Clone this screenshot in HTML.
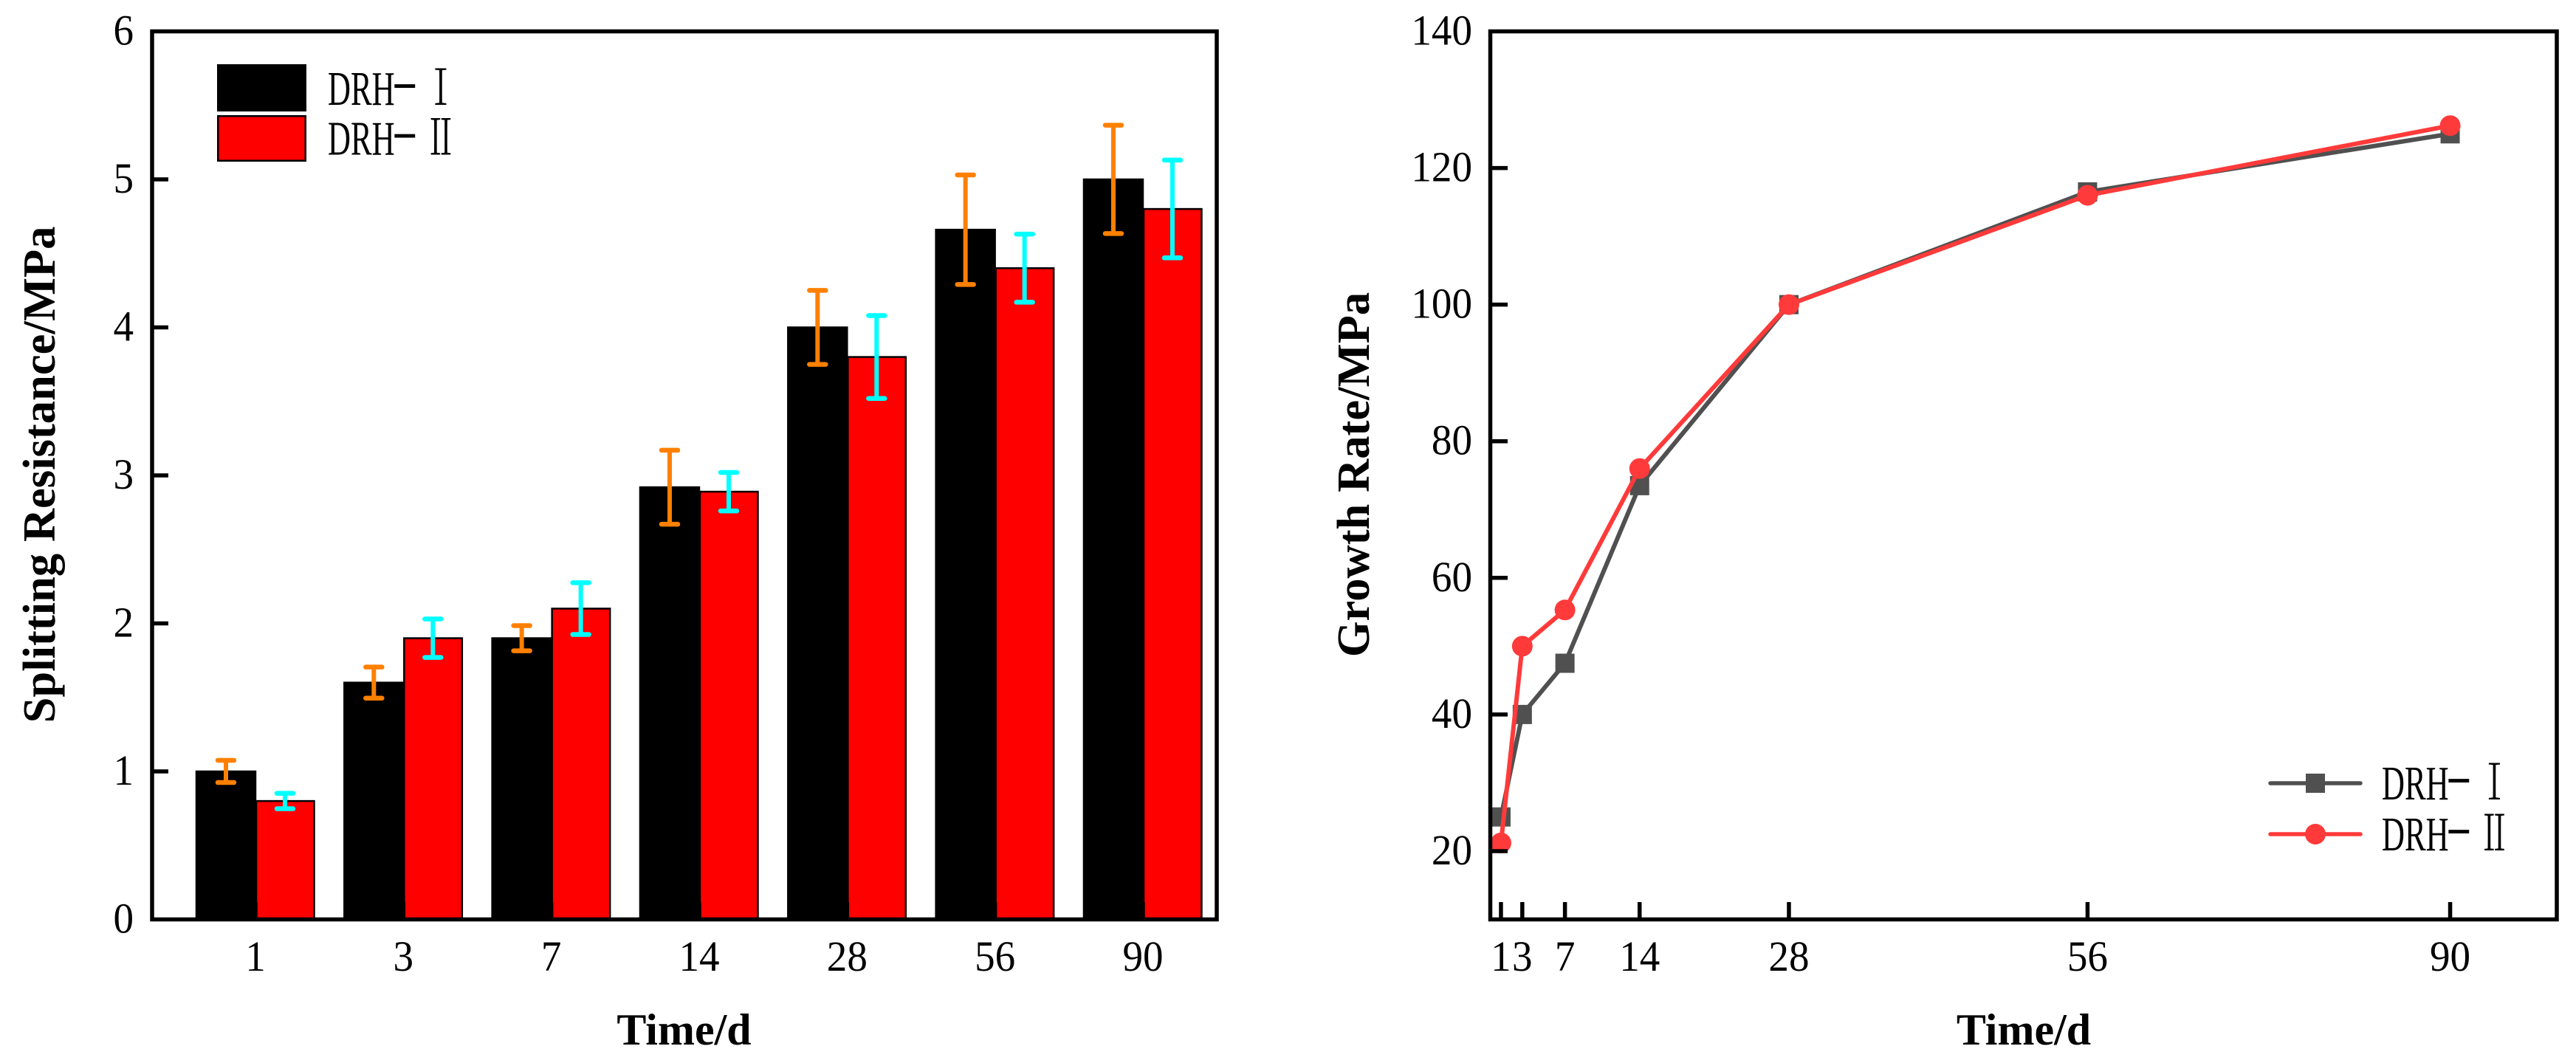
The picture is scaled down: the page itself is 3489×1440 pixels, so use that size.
<!DOCTYPE html>
<html>
<head>
<meta charset="utf-8">
<title>Splitting resistance and growth rate charts</title>
<style>
html,body{margin:0;padding:0;background:#fff;}
svg{display:block;}
text{font-family:"Liberation Serif","Noto Serif CJK SC",serif;fill:#000;}
</style>
</head>
<body>
<svg id="figure" xmlns="http://www.w3.org/2000/svg" width="3489" height="1440" viewBox="0 0 3489 1440">
<rect x="0" y="0" width="3489" height="1440" fill="#ffffff"/>
<g id="left-chart"></g>
<g id="right-chart"></g>
</svg>
<script>
// Left chart data
const barCategories = ["1", "3", "7", "14", "28", "56", "90"];
const barSeriesOne = [1, 1.6, 1.9, 2.92, 4, 4.66, 5];
const barSeriesTwo = [0.8, 1.9, 2.1, 2.89, 3.8, 4.4, 4.8];
const errorSeriesOne = [0.075, 0.105, 0.085, 0.25, 0.25, 0.37, 0.366];
const errorSeriesTwo = [0.052, 0.13, 0.175, 0.13, 0.28, 0.23, 0.33];
const barYTicks = [0, 1, 2, 3, 4, 5, 6];

// Right chart data
const lineDays = [1, 3, 7, 14, 28, 56, 90];
const lineSeriesOne = [25, 40, 47.5, 73.5, 100, 116.5, 125];
const lineSeriesTwo = [21.2, 50, 55.3, 76, 100, 116, 126.2];
const lineYTicks = [20, 40, 60, 80, 100, 120, 140];

const NS = "http://www.w3.org/2000/svg";
const leftG = document.getElementById("left-chart");
const rightG = document.getElementById("right-chart");

function mk(parent, tag, props, content) {
  const el = document.createElementNS(NS, tag);
  for (const k in props) el.setAttribute(k, props[k]);
  if (content !== undefined) el.textContent = content;
  parent.appendChild(el);
  return el;
}

// Axis functions
const barTop = 42.5, barBottom = 1245.5, barLeft = 206, barRight = 1648;
const barY = v => barBottom - (v / 6) * (barBottom - barTop);
const barX = i => 347 + i * 200.33;
const lineLeft = 2018.5, lineRight = 3463, lineTop = 42.5, lineBottom = 1245.5;
const lineX = d => lineLeft + (d / 100) * (lineRight - lineLeft);
const lineY = v => lineBottom - ((v - 10) / 130) * (lineBottom - lineTop);

const AXIS_W = 5.5;
const TICK_SIZE = 58;
const TICK_SQUEEZE = 0.95;

// Tick label with slightly condensed digits
function tickLabel(parent, x, y, anchor, str) {
  return mk(parent, "text", {transform: "translate(" + x + "," + y + ") scale(" + TICK_SQUEEZE + ",1)", "text-anchor": anchor, "font-size": TICK_SIZE}, str);
}

// ---------- Left chart: bars ----------
barCategories.forEach((cat, i) => {
  const c = barX(i);
  const b1 = mk(leftG, "rect", {x: c - 81, y: barY(barSeriesOne[i]), width: 80, height: barBottom - barY(barSeriesOne[i]), fill: "#000000", stroke: "#000000", "stroke-width": 2.5});
  
  
  const b2 = mk(leftG, "rect", {x: c, y: barY(barSeriesTwo[i]), width: 78.5, height: barBottom - barY(barSeriesTwo[i]), fill: "#ff0000", stroke: "#000000", "stroke-width": 2.5});
  
  
});

function drawError(cx, value, err, color, nameValue) {
  const g = mk(leftG, "g", {stroke: color, "stroke-linecap": "round", fill: "none"});
  
  
  const hi = barY(value + err), lo = barY(value - err);
  mk(g, "line", {x1: cx, x2: cx, y1: hi, y2: lo, "stroke-linecap": "butt", "stroke-width": 6});
  mk(g, "line", {x1: cx - 11, x2: cx + 11, y1: hi, y2: hi, "stroke-width": 6.5});
  mk(g, "line", {x1: cx - 11, x2: cx + 11, y1: lo, y2: lo, "stroke-width": 6.5});
}
barCategories.forEach((cat, i) => {
  const c = barX(i);
  drawError(c - 41, barSeriesOne[i], errorSeriesOne[i], "#ff8000", "error-bar-drh-1");
  drawError(c + 39, barSeriesTwo[i], errorSeriesTwo[i], "#00ffff", "error-bar-drh-2");
});

// Left chart frame and ticks
const leftFrame = mk(leftG, "rect", {x: barLeft, y: barTop, width: barRight - barLeft, height: barBottom - barTop, fill: "none", stroke: "#000", "stroke-width": AXIS_W});



barYTicks.forEach(v => {
  if (v > 0 && v < 6) {
    const t = mk(leftG, "line", {x1: barLeft, x2: barLeft + 22, y1: barY(v), y2: barY(v), stroke: "#000", "stroke-width": AXIS_W});
    
    
  }
  const l = tickLabel(leftG, 181, barY(v) + 18, "end", String(v));
  
  
});
barCategories.forEach((cat, i) => {
  const c = barX(i) - 1;
  const t = mk(leftG, "line", {x1: c, x2: c, y1: barBottom, y2: 1222, stroke: "#000", "stroke-width": AXIS_W});
  
  
  const l = tickLabel(leftG, c, 1315, "middle", cat);
  
  
});

const leftXTitle = mk(leftG, "text", {x: 926.5, y: 1415, "text-anchor": "middle", "font-size": 60, "font-weight": "bold"}, "Time/d");


const leftYTitle = mk(leftG, "text", {transform: "translate(74,643) rotate(-90)", "text-anchor": "middle", "font-size": 62.6, "font-weight": "bold"}, "Splitting Resistance/MPa");



// Legend text: condensed Latin, stretched hyphen, full-width roman numeral
function legendText(parent, x, baseline, numeral, numeralCenter) {
  const sx = 0.65;
  const t = mk(parent, "text", {transform: "translate(" + x + "," + baseline + ") scale(" + sx + ",1)", "font-size": 66});
  mk(t, "tspan", {x: 0}, "DRH");
  mk(t, "tspan", {x: 133, dy: -10, textLength: 55, lengthAdjust: "spacingAndGlyphs"}, "-");
  mk(t, "tspan", {x: (numeralCenter - x) / sx - 33, dy: 10, style: "font-family:'Noto Serif CJK SC','Liberation Serif',serif"}, numeral);
  return t;
}

// Left legend
const leftLegend = mk(leftG, "g", {});


const swatchOne = mk(leftLegend, "rect", {x: 295.25, y: 88.25, width: 118.5, height: 61.5, fill: "#000", stroke: "#000", "stroke-width": 2.5});


const swatchTwo = mk(leftLegend, "rect", {x: 295.25, y: 157.25, width: 118.5, height: 60.5, fill: "#ff0000", stroke: "#000", "stroke-width": 2.5});


const leftLabelOne = legendText(leftLegend, 444, 142, "Ⅰ", 597);


const leftLabelTwo = legendText(leftLegend, 444, 209.5, "Ⅱ", 597);



// ---------- Right chart: lines ----------
const GRAY = "#505050", RED = "#ff3a3a";
const polyOne = mk(rightG, "polyline", {points: lineDays.map((d, i) => lineX(d) + "," + lineY(lineSeriesOne[i])).join(" "), fill: "none", stroke: GRAY, "stroke-width": 6, "stroke-linejoin": "round"});


lineDays.forEach((d, i) => {
  const m = mk(rightG, "rect", {x: lineX(d) - 13, y: lineY(lineSeriesOne[i]) - 13, width: 26, height: 26, fill: GRAY});
  
  
});
const polyTwo = mk(rightG, "polyline", {points: lineDays.map((d, i) => lineX(d) + "," + lineY(lineSeriesTwo[i])).join(" "), fill: "none", stroke: RED, "stroke-width": 6, "stroke-linejoin": "round"});


lineDays.forEach((d, i) => {
  const m = mk(rightG, "circle", {cx: lineX(d), cy: lineY(lineSeriesTwo[i]), r: 14, fill: RED});
  
  
});

// Right chart frame and ticks
const rightFrame = mk(rightG, "rect", {x: lineLeft, y: lineTop, width: lineRight - lineLeft, height: lineBottom - lineTop, fill: "none", stroke: "#000", "stroke-width": AXIS_W});



lineYTicks.forEach(v => {
  if (v < 140) {
    const t = mk(rightG, "line", {x1: lineLeft, x2: lineLeft + 23.5, y1: lineY(v), y2: lineY(v), stroke: "#000", "stroke-width": AXIS_W});
    
    
  }
  const l = tickLabel(rightG, 1994, lineY(v) + 18, "end", String(v));
  
  
});
lineDays.forEach(d => {
  const t = mk(rightG, "line", {x1: lineX(d), x2: lineX(d), y1: lineBottom, y2: 1222, stroke: "#000", "stroke-width": AXIS_W});
  
  
  const l = tickLabel(rightG, lineX(d), 1315, "middle", String(d));
  
  
});

const rightXTitle = mk(rightG, "text", {x: 2741, y: 1415, "text-anchor": "middle", "font-size": 60, "font-weight": "bold"}, "Time/d");


const rightYTitle = mk(rightG, "text", {transform: "translate(1854,643) rotate(-90)", "text-anchor": "middle", "font-size": 62.6, "font-weight": "bold"}, "Growth Rate/MPa");



// Right legend
const rightLegend = mk(rightG, "g", {});


const keyLineOne = mk(rightLegend, "line", {x1: 3075, x2: 3197, y1: 1061, y2: 1061, stroke: GRAY, "stroke-width": 5.5, "stroke-linecap": "round"});


const keyMarkOne = mk(rightLegend, "rect", {x: 3123, y: 1048, width: 26, height: 26, fill: GRAY});


const keyLineTwo = mk(rightLegend, "line", {x1: 3075, x2: 3197, y1: 1130, y2: 1130, stroke: RED, "stroke-width": 5.5, "stroke-linecap": "round"});


const keyMarkTwo = mk(rightLegend, "circle", {cx: 3136, cy: 1130, r: 14, fill: RED});


const rightLabelOne = legendText(rightLegend, 3226, 1083, "Ⅰ", 3378.5);


const rightLabelTwo = legendText(rightLegend, 3226, 1152, "Ⅱ", 3378.5);


</script>
</body>
</html>
